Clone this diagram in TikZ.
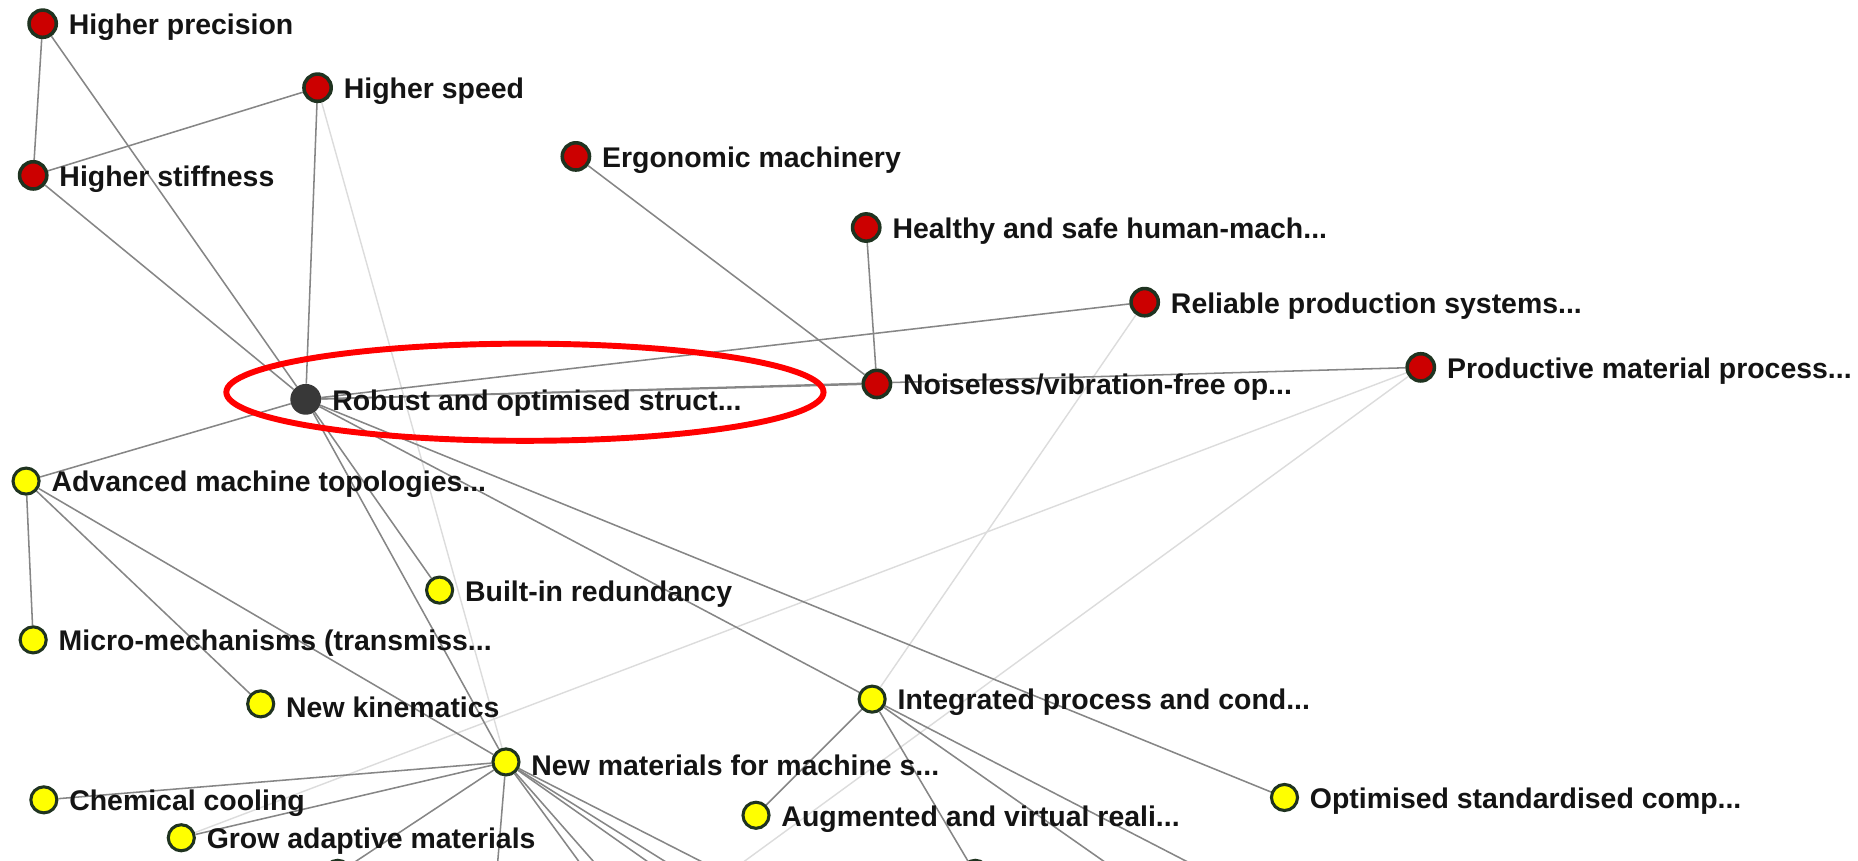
\documentclass[tikz,border=0pt]{standalone}
\usepackage{fontspec}
\setmainfont{Liberation Sans}
\usetikzlibrary{positioning,backgrounds}

\definecolor{rimgreen}{HTML}{1F3320}
\definecolor{nodered}{HTML}{CC0000}
\definecolor{nodeyellow}{HTML}{FFFF00}
\definecolor{edgegray}{HTML}{868686}
\definecolor{faintgray}{HTML}{DCDCDC}

\tikzset{
  goalnode/.style={circle, fill=nodered, draw=rimgreen, line width=3pt, minimum size=23pt, inner sep=0pt},
  topicnode/.style={circle, fill=nodeyellow, draw=rimgreen, line width=2.6pt, minimum size=22pt, inner sep=0pt},
  focusnode/.style={circle, fill=black!78, minimum size=26pt, inner sep=0pt},
  link/.style={draw=edgegray, line width=1.3pt},
  faintlink/.style={draw=faintgray, line width=1.2pt}
}

\begin{document}
\begin{tikzpicture}[x=1pt,y=-1pt,
  every label/.style={font=\fontsize{24}{26}\selectfont\bfseries, text=black!92, inner sep=0pt, yshift=-3pt},
  label distance=9pt]
\useasboundingbox (0,0) rectangle (1568,726);
\clip (0,0) rectangle (1568,726);

% goals
\node[goalnode, label=right:Higher precision] (hp) at (36,20) {};
\node[goalnode, label=right:Higher speed] (hspeed) at (268,74) {};
\node[goalnode, label=right:Higher stiffness] (hstiff) at (28,148) {};
\node[goalnode, label=right:Ergonomic machinery] (ergo) at (486,132) {};
\node[goalnode, label=right:Healthy and safe human-mach...] (healthy) at (731,192) {};
\node[goalnode, label=right:Reliable production systems...] (reliable) at (966,255) {};
\node[goalnode, label=right:Productive material process...] (productive) at (1199,310) {};
\node[goalnode, label=right:Noiseless/vibration-free op...] (noiseless) at (740,324) {};

\node[focusnode, label=right:Robust and optimised struct...] (robust) at (258,337) {};

% topics
\node[topicnode, label=right:Advanced machine topologies...] (advanced) at (22,406) {};
\node[topicnode, label=right:Built-in redundancy] (builtin) at (371,498) {};
\node[topicnode, label=right:Micro-mechanisms (transmiss...] (micro) at (28,540) {};
\node[topicnode, label=right:New kinematics] (newkin) at (220,594) {};
\node[topicnode, label=right:Integrated process and cond...] (integrated) at (736,590) {};
\node[topicnode, label=right:New materials for machine s...] (newmat) at (427,643) {};
\node[topicnode, label=right:Chemical cooling] (chemcool) at (37,675) {};
\node[topicnode, label=right:Grow adaptive materials] (grow) at (153,707) {};
\node[topicnode, label=right:Augmented and virtual reali...] (augmented) at (638,688) {};
\node[topicnode, label=right:Optimised standardised comp...] (optimised) at (1084,673) {};
\node[topicnode, fill=black!75] (cuta) at (285,737) {};
\node[topicnode, fill=black!75] (cutb) at (823,737) {};

\coordinate (na) at (414,800);
\coordinate (nb) at (542,800);
\coordinate (nc) at (565,800);
\coordinate (nd) at (650,800);
\coordinate (ne) at (678,800);
\coordinate (nf) at (735,800);
\coordinate (ia) at (1036,800);
\coordinate (ib) at (1143,800);
\coordinate (pa) at (528,800);

\begin{pgfonlayer}{background}
\foreach \a/\b in {hspeed/newmat, reliable/integrated, productive/grow, productive/pa}
  \draw[faintlink] (\a) -- (\b);
\foreach \a/\b in {hp/hstiff, hp/robust, hspeed/hstiff, hspeed/robust, hstiff/robust,
    ergo/noiseless, healthy/noiseless, reliable/robust, robust/noiseless, robust/productive,
    robust/advanced, robust/builtin, robust/newmat, robust/integrated, robust/optimised,
    advanced/micro, advanced/newkin, advanced/newmat,
    newmat/chemcool, newmat/grow, newmat/cuta, newmat/na, newmat/nb, newmat/nc,
    newmat/nd, newmat/ne, newmat/nf,
    integrated/augmented, integrated/cutb, integrated/ia, integrated/ib}
  \draw[link] (\a) -- (\b);
\end{pgfonlayer}

\draw[red, line width=5pt] (443,331) ellipse [x radius=252, y radius=41];
\end{tikzpicture}
\end{document}
